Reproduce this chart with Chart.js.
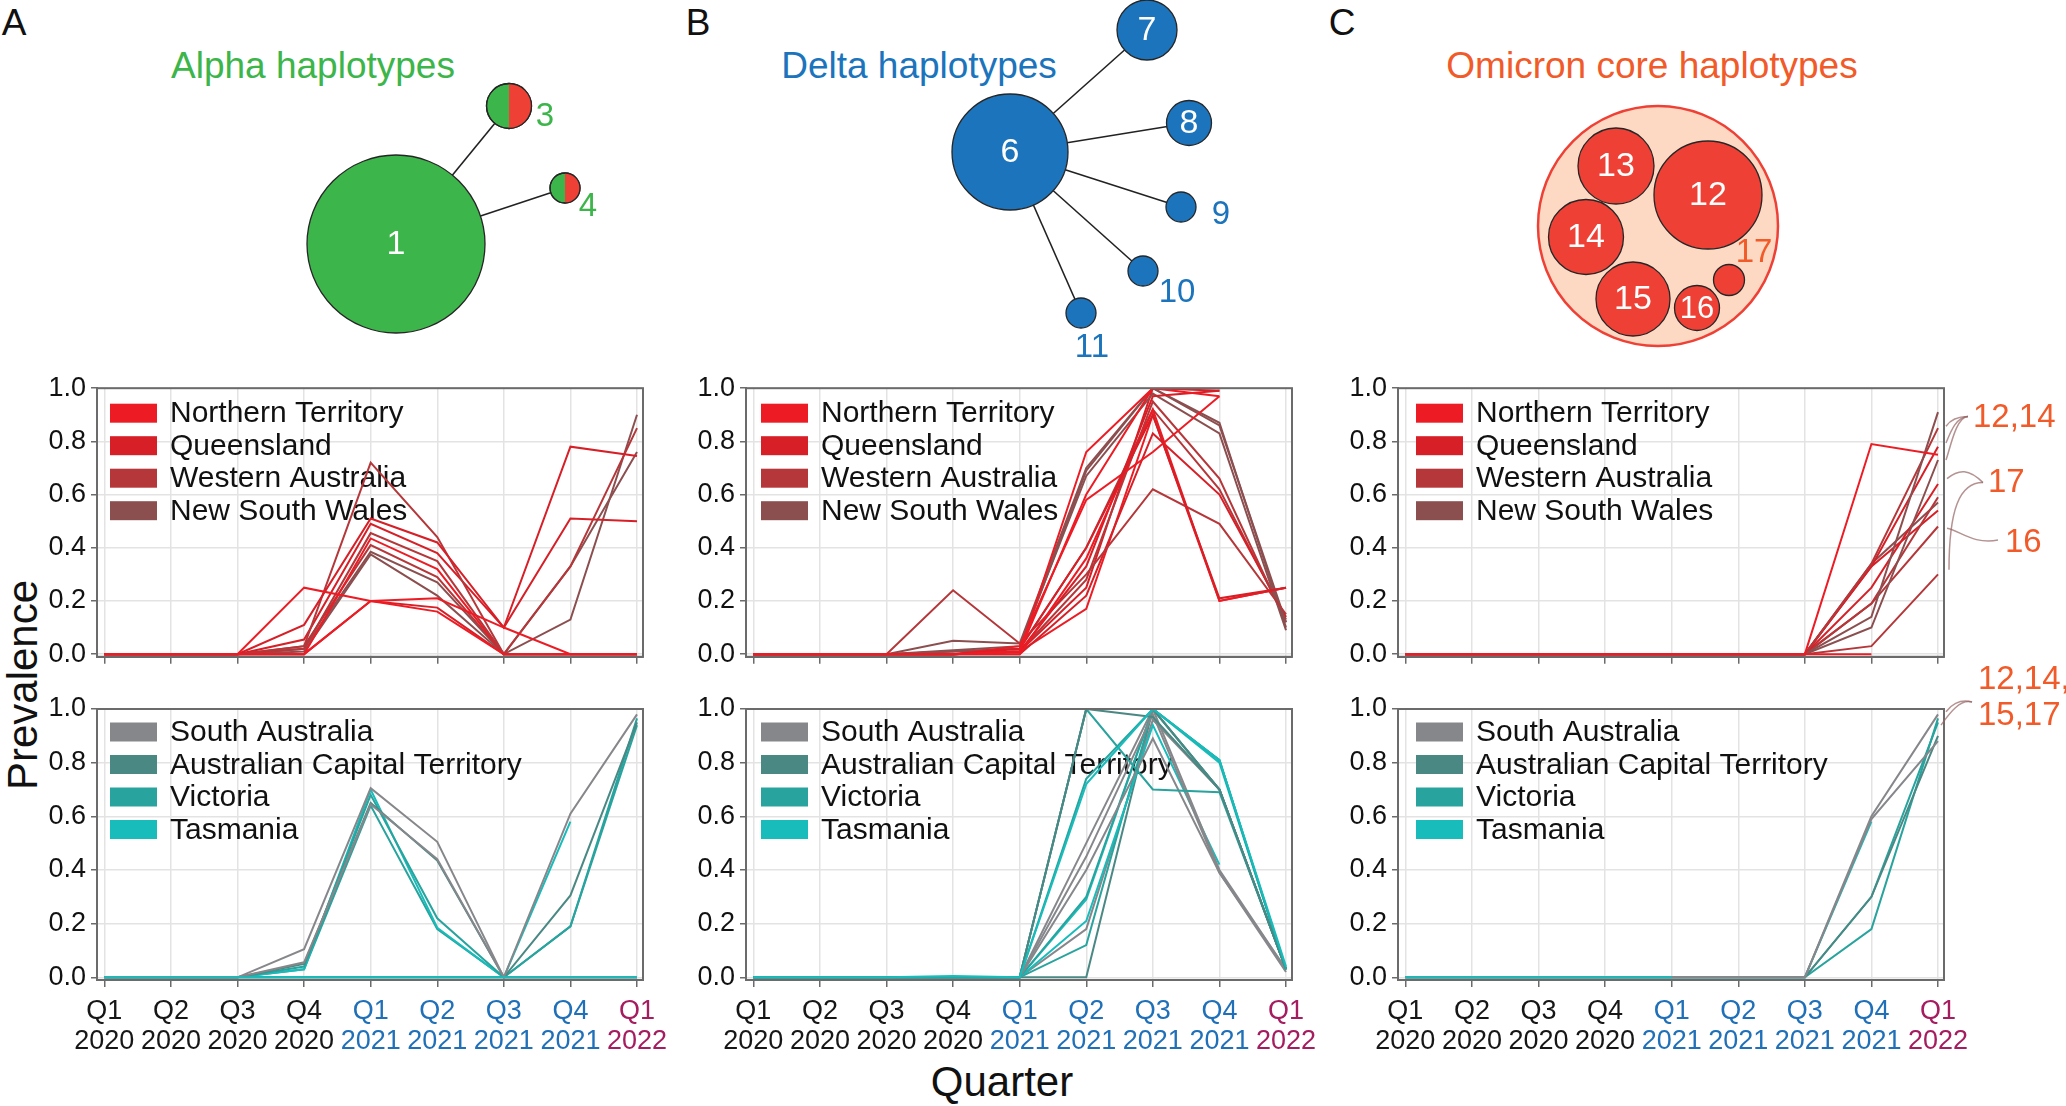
<!DOCTYPE html>
<html>
<head>
<meta charset="utf-8">
<title>Haplotype prevalence by quarter</title>
<script src="https://cdn.jsdelivr.net/npm/chart.js@4.4.1/dist/chart.umd.min.js"></script>
<style>
  body { margin: 0; width: 2066px; height: 1106px; background: #fff; position: relative; overflow: hidden;
         font-family: "Liberation Sans", Arial, sans-serif; }
  canvas { position: absolute; }
  .lbl { position: absolute; white-space: nowrap; line-height: 1; transform: translate(-50%, -50%); }
</style>
</head>
<body>
<div class="lbl" style="left:14px;top:22px;font-size:37px;color:#111">A</div>
<div class="lbl" style="left:698px;top:22px;font-size:37px;color:#111">B</div>
<div class="lbl" style="left:1342px;top:22px;font-size:37px;color:#111">C</div>
<div class="lbl" style="left:313px;top:65px;font-size:37px;color:#3cb54a">Alpha haplotypes</div>
<div class="lbl" style="left:919px;top:65px;font-size:37px;color:#1b74bc">Delta haplotypes</div>
<div class="lbl" style="left:1652px;top:65px;font-size:37px;color:#f15a29">Omicron core haplotypes</div>
<div class="lbl" style="left:23px;top:685px;font-size:42px;color:#111;transform:translate(-50%,-50%) rotate(-90deg)">Prevalence</div>
<div class="lbl" style="left:1002px;top:1082px;font-size:42px;color:#111">Quarter</div>

<script>
// x axis: quarters, two-line labels
const quarterLabels = [['Q1','2020'],['Q2','2020'],['Q3','2020'],['Q4','2020'],
                       ['Q1','2021'],['Q2','2021'],['Q3','2021'],['Q4','2021'],['Q1','2022']];
const yearColors = {'2020': '#161616', '2021': '#1f70b8', '2022': '#a51c5f'};

// states shown in the two rows of panels
const redStates = ['Northern Territory', 'Queensland', 'Western Australia', 'New South Wales'];
const redColors = ['#ed1c24', '#d71f27', '#b5373a', '#8c4f50'];
const otherStates = ['South Australia', 'Australian Capital Territory', 'Victoria', 'Tasmania'];
const otherColors = ['#86878b', '#4a8884', '#28a39e', '#17bcbb'];

// prevalence lines: [state index, values Q1 2020 .. Q1 2022]
const alphaRed = [
  [0, [0,0,0,0.25,0.2,0.16,0,0,0]],
  [0, [0,0,0,0,0.2,0.21,0.1,0,0]],
  [1, [0,0,0,0.11,0.51,0.42,0.1,0.78,0.745]],
  [2, [0,0,0,0.03,0.72,0.44,0,0,0]],
  [1, [0,0,0,0.055,0.49,0.38,0.1,0.51,0.5]],
  [2, [0,0,0,0.02,0.455,0.35,0,0.33,0.85]],
  [0, [0,0,0,0,0.435,0.32,0,0,0]],
  [2, [0,0,0,0.03,0.41,0.29,0,0,0]],
  [3, [0,0,0,0.02,0.385,0.27,0,0.33,0.76]],
  [3, [0,0,0,0.01,0.375,0.22,0,0.13,0.9]],
  [1, [0,0,0,0,0.2,0.175,0,0,0]]
];
const alphaOther = [
  [3, [0,0,0,0,0,0,0,0,0]],
  [0, [0,0,0,0.105,0.705,0.505,0,0.61,0.98]],
  [0, [0,0,0,0.056,0.645,0.44,0,0,0]],
  [1, [0,0,0,0.05,0.65,0.435,0,0.305,0.95]],
  [2, [0,0,0,0.04,0.68,0.22,0,0.19,0.965]],
  [3, [0,0,0,0.03,0.7,0.185,0,0.58,null]],
  [2, [0,0,0,0.03,0.64,0.18,0,0.19,0.94]],
  [2, [0,0,0,0,0,0,0,0,0]],
  [1, [0,0,0,0,0,0,0,0,0]]
];
const deltaRed = [
  [0, [0,0,0,0,0.01,0.76,1.0,0.97,null]],
  [0, [0,0,0,0,0.01,0.6,1.0,1.0,null]],
  [1, [0,0,0,0,0.02,0.4,0.9,0.21,0.25]],
  [0, [0,0,0,0,0,0.36,0.92,0.2,0.25]],
  [1, [0,0,0,0,0.01,0.33,0.97,0.99,null]],
  [0, [0,0,0,0,0.03,0.58,0.76,0.97,null]],
  [2, [0,0,0,0.24,0.04,0.3,0.62,0.49,0.15]],
  [3, [0,0,0,0.05,0.04,0.7,1.0,0.87,0.1]],
  [3, [0,0,0,0.015,0.03,0.67,0.98,0.83,0.09]],
  [3, [0,0,0,0.01,0.02,0.69,1.0,0.86,0.12]],
  [2, [0,0,0,0,0.01,0.28,0.95,0.66,0.12]],
  [1, [0,0,0,0,0,0.22,0.83,0.6,0.14]],
  [0, [0,0,0,0,0.01,0.17,0.9,0.2,0.25]],
  [1, [0,0,0,0,0.01,0.25,1.0,0.99,null]],
  [2, [0,0,0,0.01,0.02,0.4,0.92,0.62,0.13]]
];
const deltaOther = [
  [3, [0,0,0,0.005,0,0.72,1.0,0.81,0.04]],
  [2, [0,0,0,0,0,0.74,1.0,0.81,0.03]],
  [1, [0,0,0,0,0,1.0,0.97,0.7,0.03]],
  [1, [0,0,0,0,0,1.0,1.0,0.7,0.03]],
  [2, [0,0,0,0,0,1.0,0.7,0.69,0.03]],
  [0, [0,0,0,0,0,0.5,1.0,0.4,0.03]],
  [0, [0,0,0,0,0,0.4,0.89,0.39,0.03]],
  [0, [0,0,0,0,0,0.45,0.98,0.39,0.02]],
  [2, [0,0,0,0,0,0.3,1.0,0.7,0.03]],
  [3, [0,0,0,0,0,0.21,0.94,0.42,null]],
  [2, [0,0,0,0,0,0.12,1.0,0.81,0.03]],
  [0, [0,0,0,0,0,0.18,0.96,0.7,0.03]],
  [1, [0,0,0,0,0,0,1.0,0.7,0.03]],
  [3, [0,0,0,0,0,0.29,1.0,0.8,0.03]]
];
const omicronRed = [
  [0, [0,0,0,0,0,0,0,0.79,0.75]],
  [0, [0,0,0,0,0,0,0,0,null]],
  [3, [0,0,0,0,0,0,0,0.14,0.91]],
  [2, [0,0,0,0,0,0,0,0.34,0.85]],
  [1, [0,0,0,0,0,0,0,0.33,0.78]],
  [3, [0,0,0,0,0,0,0,0.1,0.73]],
  [1, [0,0,0,0,0,0,0,0.25,0.64]],
  [2, [0,0,0,0,0,0,0,0.19,0.59]],
  [3, [0,0,0,0,0,0,0,0.34,0.57]],
  [1, [0,0,0,0,0,0,0,0.33,0.54]],
  [2, [0,0,0,0,0,0,0,0.19,0.48]],
  [2, [0,0,0,0,0,0,0,0.03,0.3]]
];
const omicronOther = [
  [3, [0,0,0,0,0,null,null,null,null]],
  [0, [0,0,0,0,0,0,0,0.6,0.98]],
  [0, [0,0,0,0,0,0,0,0.59,0.88]],
  [3, [0,0,0,0,0,0,0,0.58,null]],
  [1, [0,0,0,0,0,0,0,0.3,0.9]],
  [2, [0,0,0,0,0,0,0,0.18,0.965]],
  [2, [0,0,0,0,0,0,0,0.3,0.95]]
];

// haplotype labels beside the omicron lines: [text, prevalence level]
const omicronRedNotes = [['12,14', 0.89], ['17', 0.645], ['16', 0.417]];
const omicronOtherNotes = [['12,14,', 1.108], ['15,17', 0.974]];

// haplotype networks: [name, group, relative size]
const networkNodes = [
  ['1','alpha',89], ['3','alphaSplit',22.5], ['4','alphaSplit',15],
  ['6','delta',58], ['7','delta',30], ['8','delta',22.5], ['9','delta',15], ['10','delta',15], ['11','delta',15],
  ['12','omicron',54], ['13','omicron',38], ['14','omicron',37.5], ['15','omicron',37], ['16','omicron',22.5], ['17','omicron',15.5]
];
const networkEdges = [['1','3'], ['1','4'], ['6','7'], ['6','8'], ['6','9'], ['6','10'], ['6','11']];

// page layout of the network drawing (page pixels)
const nodeLayout = {
  '1': [396,244], '3': [509,106], '4': [565,188],
  '6': [1010,152], '7': [1147,30], '8': [1189,123], '9': [1181,207], '10': [1143,271], '11': [1081,313],
  '12': [1708,195], '13': [1616,166], '14': [1586,237], '15': [1633,299], '16': [1697,308], '17': [1729,280]
};
const outsideLabels = {'3': [545,117], '4': [588,207], '9': [1221,215], '10': [1177,293], '11': [1092,348], '17': [1754,253]};
const omicronHull = [1658, 226, 120];

Chart.defaults.font.family = '"Liberation Sans", Arial, sans-serif';
Chart.defaults.color = '#111';

const fontFamily = '"Liberation Sans", Arial, sans-serif';
const gridColor = '#e3e3e3';
const axisColor = '#6b6b6b';
const groupFill = {alpha: '#3cb54a', alphaSplit: '#3cb54a', delta: '#1b74bc', omicron: '#ef4036'};
const groupText = {alpha: '#3cb54a', alphaSplit: '#3cb54a', delta: '#1b74bc', omicron: '#f15a29'};

function addCanvas(left, top, width, height) {
  const c = document.createElement('canvas');
  c.width = width;
  c.height = height;
  c.style.left = left + 'px';
  c.style.top = top + 'px';
  document.body.appendChild(c);
  return c;
}

// box round the plot area
const framePlugin = {
  id: 'frame',
  afterDatasetsDraw(chart) {
    const {ctx, chartArea: a} = chart;
    ctx.save();
    ctx.strokeStyle = axisColor;
    ctx.lineWidth = 2;
    ctx.strokeRect(a.left, a.top, a.right - a.left, a.bottom - a.top);
    ctx.restore();
  }
};

// state legend drawn inside the plot area, under the lines
const legendPlugin = {
  id: 'stateLegend',
  beforeDatasetsDraw(chart, args, opts) {
    const {ctx, chartArea: a} = chart;
    ctx.save();
    ctx.font = '30px ' + fontFamily;
    ctx.textBaseline = 'middle';
    opts.names.forEach((name, i) => {
      const y = a.top + opts.first + i * 32.5;
      ctx.fillStyle = opts.colors[i];
      ctx.fillRect(a.left + opts.inset, y - 9.5, 47, 19);
      ctx.fillStyle = '#111';
      ctx.fillText(name, a.left + opts.inset + 60, y + 1);
    });
    ctx.restore();
  }
};

// haplotype notes with curved connectors to the right of the omicron panels
const notesPlugin = {
  id: 'notes',
  afterDraw(chart, args, opts) {
    if (!opts.items || !opts.items.length) return;
    const {ctx, chartArea: a, scales: {y}} = chart;
    const py = v => y.getPixelForValue(v);
    ctx.save();
    ctx.strokeStyle = 'rgba(150,100,100,0.7)';
    ctx.lineWidth = 1.5;
    opts.curves.forEach(c => {
      ctx.beginPath();
      ctx.moveTo(a.right + c[0], py(c[1]));
      ctx.bezierCurveTo(a.right + c[2], py(c[3]), a.right + c[4], py(c[5]), a.right + c[6], py(c[7]));
      ctx.stroke();
    });
    ctx.font = '33px ' + fontFamily;
    ctx.fillStyle = '#f15a29';
    ctx.textBaseline = 'middle';
    opts.items.forEach(([text, v], i) => ctx.fillText(text, a.right + opts.dx[i], py(v)));
    ctx.restore();
  }
};

function drawPanel(p) {
  const yAxisW = 70;
  const bottomRow = !!p.bottomRow;
  const padTop = bottomRow ? 50 : 20;
  const xAxisH = bottomRow ? 100 : 20;
  const canvas = addCanvas(p.left - yAxisW, p.top - padTop,
                           yAxisW + p.width + p.padRight, padTop + p.height + xAxisH);
  new Chart(canvas, {
    type: 'line',
    data: {
      datasets: p.series.map(([s, vals]) => ({
        data: vals.map((v, i) => ({x: i, y: v})),
        borderColor: p.colors[s],
        borderWidth: 2,
        pointRadius: 0,
        tension: 0,
        fill: false
      }))
    },
    options: {
      responsive: false,
      animation: false,
      events: [],
      layout: {padding: {top: padTop, right: p.padRight, left: 0, bottom: 0}},
      scales: {
        x: {
          type: 'linear', min: -0.11, max: 8.09,
          afterFit: s => { s.height = xAxisH; },
          ticks: {
            display: bottomRow, stepSize: 1, includeBounds: false, autoSkip: false, maxRotation: 0,
            padding: 9, font: {size: 27, lineHeight: 1.12},
            color: c => c.tick ? yearColors[quarterLabels[c.tick.value][1]] : '#111',
            callback: v => quarterLabels[v]
          },
          grid: {color: gridColor, lineWidth: 1.5, tickColor: axisColor, tickLength: 7},
          border: {display: true, color: axisColor, width: 2}
        },
        y: {
          min: -0.01, max: 1.0,
          afterFit: s => { s.width = yAxisW; },
          ticks: {stepSize: 0.2, includeBounds: false, padding: 5, font: {size: 27},
                  color: '#111', callback: v => v.toFixed(1)},
          grid: {color: gridColor, lineWidth: 1.5, tickColor: axisColor, tickLength: 6},
          border: {display: true, color: axisColor, width: 2}
        }
      },
      plugins: {
        legend: {display: false},
        tooltip: {enabled: false},
        stateLegend: {names: p.names, colors: p.colors, inset: p.legendInset, first: bottomRow ? 23 : 25},
        notes: p.notes || {items: []}
      }
    },
    plugins: [legendPlugin, framePlugin, notesPlugin]
  });
}

const plotW = 546, plotH = 271;
const colLeft = [97, 746, 1398];
const rowTop = [387, 709];

drawPanel({left: colLeft[0], top: rowTop[0], width: plotW, height: plotH, padRight: 40, series: alphaRed,
           names: redStates, colors: redColors, legendInset: 13});
drawPanel({left: colLeft[0], top: rowTop[1], width: plotW, height: plotH, padRight: 40, series: alphaOther,
           names: otherStates, colors: otherColors, legendInset: 13, bottomRow: true});
drawPanel({left: colLeft[1], top: rowTop[0], width: plotW, height: plotH, padRight: 40, series: deltaRed,
           names: redStates, colors: redColors, legendInset: 15});
drawPanel({left: colLeft[1], top: rowTop[1], width: plotW, height: plotH, padRight: 40, series: deltaOther,
           names: otherStates, colors: otherColors, legendInset: 15, bottomRow: true});
drawPanel({left: colLeft[2], top: rowTop[0], width: plotW, height: plotH, padRight: 122, series: omicronRed,
           names: redStates, colors: redColors, legendInset: 18,
           notes: {items: omicronRedNotes, dx: [29, 44, 61],
                   curves: [[24,0.894, 12,0.894, 6,0.88, 2,0.857],
                            [24,0.894, 12,0.894, 6,0.83, 2,0.794],
                            [24,0.894, 12,0.894, 6,0.77, 2,0.73],
                            [39,0.645, 25,0.697, 15,0.697, 3,0.66],
                            [39,0.645, 15,0.645, 5,0.54, 5,0.317],
                            [54,0.429, 30,0.41, 15,0.466, 3,0.473]]}});
drawPanel({left: colLeft[2], top: rowTop[1], width: plotW, height: plotH, padRight: 122, series: omicronOther,
           names: otherStates, colors: otherColors, legendInset: 18, bottomRow: true,
           notes: {items: omicronOtherNotes, dx: [34, 34],
                   curves: [[28,1.026, 15,1.04, 6,1.01, 2,0.99],
                            [28,1.026, 15,1.04, 3,0.97, -3,0.94]]}});

// haplotype networks, one overlay chart in page pixel units
const nodeDecorPlugin = {
  id: 'nodeDecor',
  afterDatasetsDraw(chart) {
    const {ctx} = chart;
    const meta = chart.getDatasetMeta(0);
    ctx.save();
    networkNodes.forEach(([name, group], i) => {
      const el = meta.data[i];
      const r = el.options.radius;
      if (group === 'alphaSplit') {
        ctx.beginPath();
        ctx.arc(el.x, el.y, r, -Math.PI / 2, Math.PI / 2);
        ctx.closePath();
        ctx.fillStyle = '#ef4036';
        ctx.fill();
        ctx.beginPath();
        ctx.arc(el.x, el.y, r, 0, 2 * Math.PI);
        ctx.lineWidth = 1.3;
        ctx.strokeStyle = '#262626';
        ctx.stroke();
      }
      ctx.textAlign = 'center';
      ctx.textBaseline = 'middle';
      if (outsideLabels[name]) {
        const [lx, ly] = outsideLabels[name];
        ctx.font = '33px ' + fontFamily;
        ctx.fillStyle = groupText[group];
        ctx.fillText(name, chart.scales.x.getPixelForValue(lx), chart.scales.y.getPixelForValue(ly));
      } else {
        ctx.font = (name === '16' ? 31 : 34) + 'px ' + fontFamily;
        ctx.fillStyle = '#ffffff';
        ctx.fillText(name, el.x, el.y + 1);
      }
    });
    ctx.restore();
  }
};

const netCanvas = addCanvas(0, 0, 2066, 370);
new Chart(netCanvas, {
  type: 'bubble',
  data: {
    datasets: [
      {
        type: 'bubble',
        data: networkNodes.map(([name, , size]) => ({x: nodeLayout[name][0], y: nodeLayout[name][1], r: size})),
        backgroundColor: networkNodes.map(n => groupFill[n[1]]),
        borderColor: '#262626',
        borderWidth: 1.3,
        clip: false,
        order: 0
      },
      {
        type: 'bubble',
        data: [{x: omicronHull[0], y: omicronHull[1], r: omicronHull[2]}],
        backgroundColor: '#fdd8c3',
        borderColor: '#ef4036',
        borderWidth: 2.5,
        clip: false,
        order: 1
      },
      ...networkEdges.map(([a, b]) => ({
        type: 'line',
        data: [{x: nodeLayout[a][0], y: nodeLayout[a][1]}, {x: nodeLayout[b][0], y: nodeLayout[b][1]}],
        borderColor: '#222',
        borderWidth: 1.6,
        pointRadius: 0,
        order: 2
      }))
    ]
  },
  options: {
    responsive: false,
    animation: false,
    events: [],
    layout: {padding: 0, autoPadding: false},
    scales: {
      x: {type: 'linear', min: 0, max: 2066, display: false},
      y: {type: 'linear', min: 0, max: 370, reverse: true, display: false}
    },
    plugins: {legend: {display: false}, tooltip: {enabled: false}}
  },
  plugins: [nodeDecorPlugin]
});
</script>
</body>
</html>
